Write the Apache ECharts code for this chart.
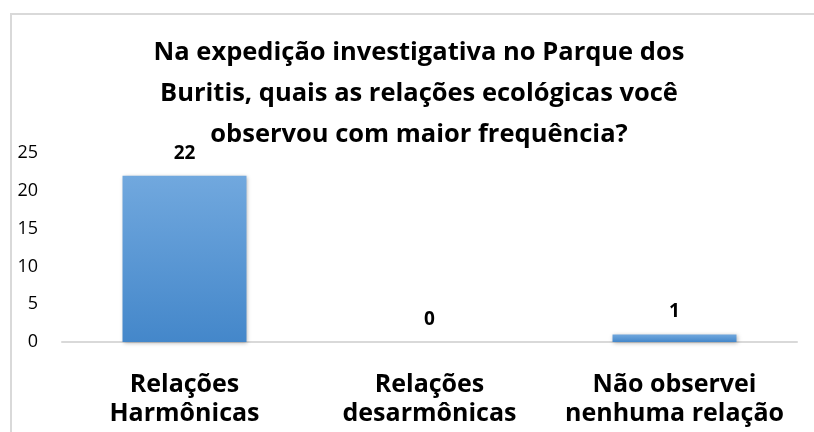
<!DOCTYPE html>
<html>
<head>
<meta charset="utf-8">
<script src="https://cdn.jsdelivr.net/npm/echarts@6/dist/echarts.min.js"></script>
<style>
  html, body { margin: 0; padding: 0; background: #fff; }
  #chart { width: 814px; height: 432px; }
</style>
</head>
<body>
<div id="chart"></div>
<script>
const titleText = 'Na expedição investigativa no Parque dos\nBuritis, quais as relações ecológicas você\nobservou com maior frequência?'
const categories = ['Relações\nHarmônicas', 'Relações\ndesarmônicas', 'Não observei\nnenhuma relação']
const values = [22, 0, 1]
const yTicks = { min: 0, max: 25, interval: 5 }

const fontFamily = '"Open Sans", "Noto Sans", sans-serif'

const chart = echarts.init(document.getElementById('chart'))

const option = {
  backgroundColor: '#fff',
  animation: false,
  title: {
    text: titleText,
    left: 414,
    textAlign: 'center',
    top: 27,
    textStyle: {
      fontFamily: fontFamily,
      fontWeight: 'bold',
      fontSize: 25.5,
      lineHeight: 41,
      color: '#000'
    }
  },
  graphic: [
    {
      type: 'polyline',
      shape: { points: [[11, 432], [11, 14], [814, 14]] },
      style: { stroke: '#d9d9d9', lineWidth: 2, fill: null },
      silent: true
    }
  ],
  grid: {
    left: 62,
    right: 17,
    top: 153,
    bottom: 90
  },
  xAxis: {
    type: 'category',
    data: categories,
    axisLine: { lineStyle: { color: '#d9d9d9', width: 2 } },
    axisTick: { show: false },
    axisLabel: {
      interval: 0,
      margin: 28,
      fontFamily: fontFamily,
      fontWeight: 'bold',
      fontSize: 25,
      lineHeight: 29,
      color: '#000'
    }
  },
  yAxis: {
    type: 'value',
    min: yTicks.min,
    max: yTicks.max,
    interval: yTicks.interval,
    splitLine: { show: false },
    axisLine: { show: false },
    axisTick: { show: false },
    axisLabel: {
      margin: 24,
      fontFamily: fontFamily,
      fontSize: 18,
      color: '#000'
    }
  },
  series: [
    {
      type: 'bar',
      data: values,
      barWidth: '50.6%',
      itemStyle: {
        color: new echarts.graphic.LinearGradient(0, 0, 0, 1, [
          { offset: 0, color: '#71a8de' },
          { offset: 1, color: '#4487ca' }
        ]),
        shadowColor: 'rgba(0,0,0,0.3)',
        shadowBlur: 4,
        shadowOffsetX: 1,
        shadowOffsetY: 1
      },
      label: {
        show: true,
        position: 'top',
        distance: 13,
        fontFamily: fontFamily,
        fontWeight: 'bold',
        fontSize: 19,
        color: '#000'
      }
    }
  ]
}

chart.setOption(option)
window.addEventListener('resize', () => chart.resize())
</script>
</body>
</html>
